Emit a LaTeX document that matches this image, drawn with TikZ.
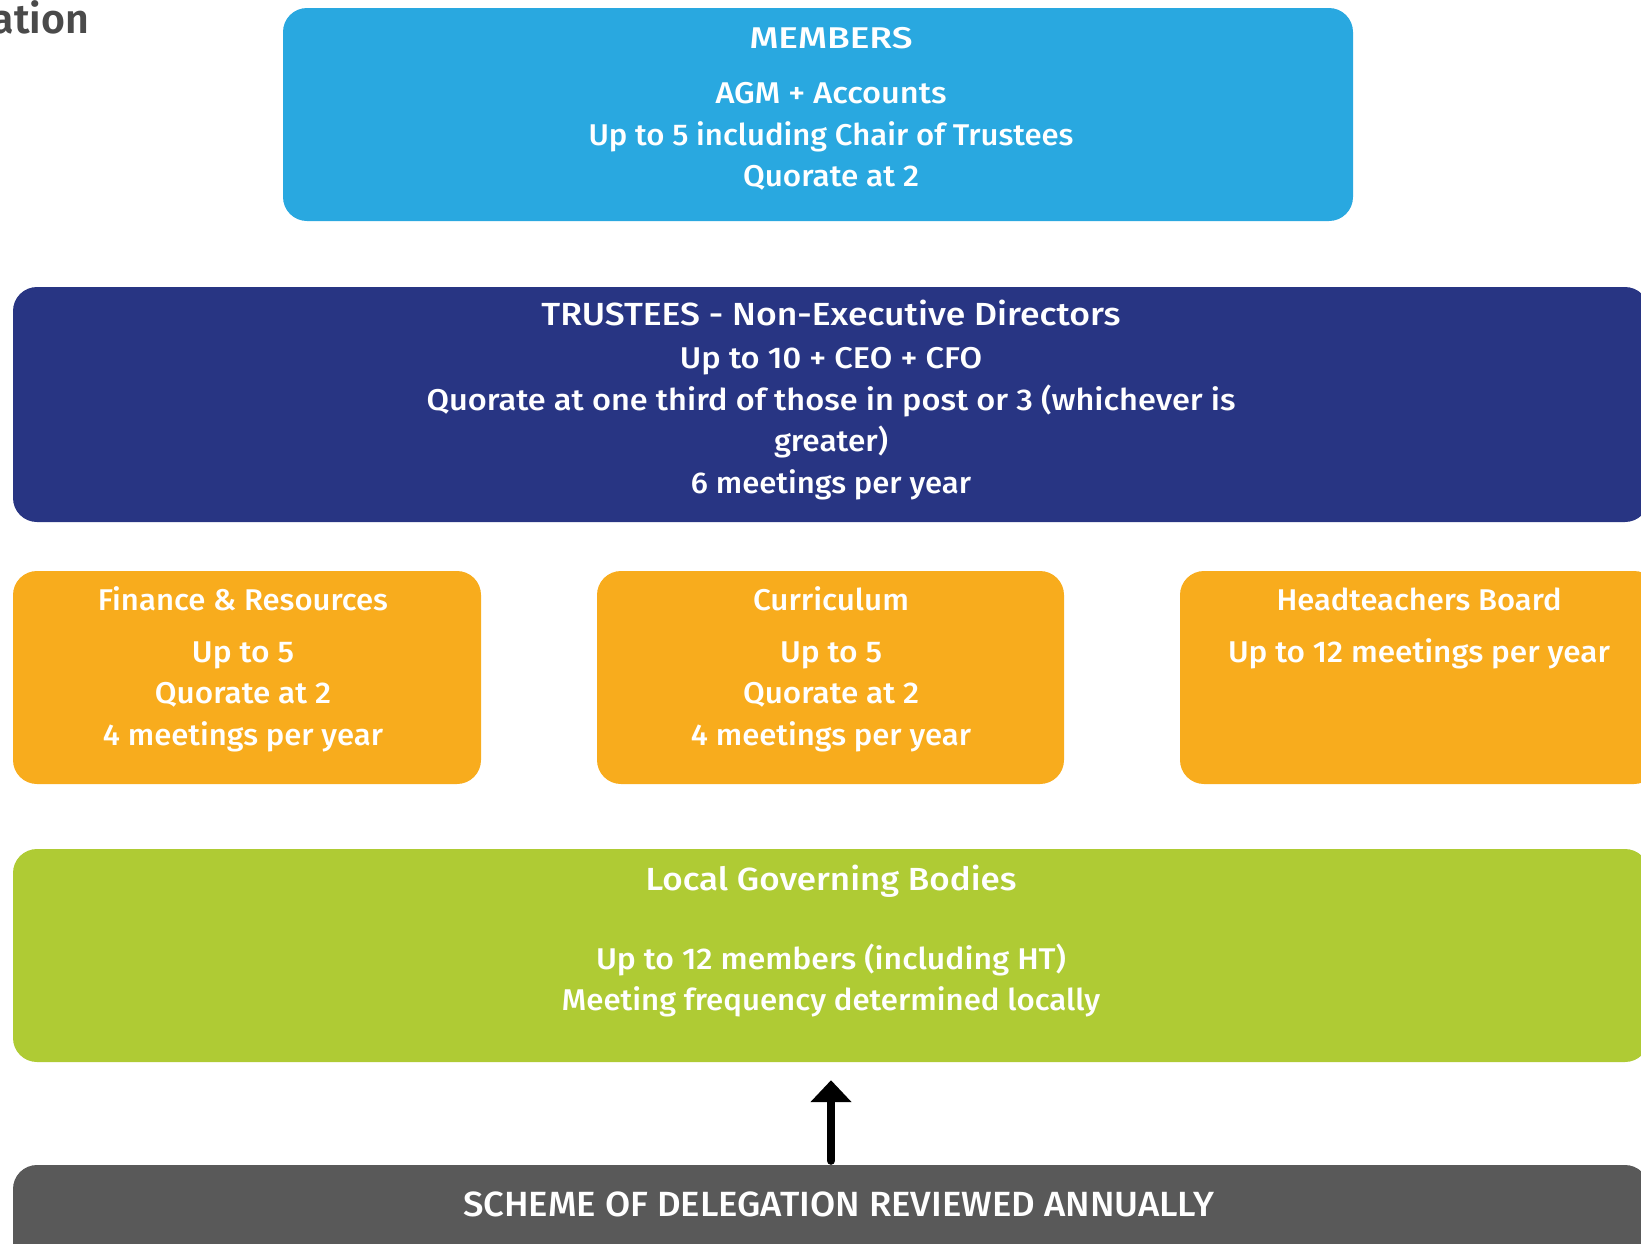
\documentclass[tikz,border=0pt]{standalone}
\usepackage{fontspec}
\setmainfont{Fira Sans}[UprightFont=* Medium, BoldFont=* SemiBold]
\usepackage{graphicx}
\usetikzlibrary{arrows.meta}

\definecolor{memblue}{HTML}{29A8E0}
\definecolor{trustnavy}{HTML}{283583}
\definecolor{comorange}{HTML}{F8AC1D}
\definecolor{lgbgreen}{HTML}{AFCB34}
\definecolor{schemegray}{HTML}{595959}
\definecolor{headgray}{HTML}{4A4A4A}

% set a line of text to an exact width, keeping its height
\newcommand{\fitline}[2]{\resizebox{#1pt}{\height}{#2}}

\begin{document}
\begin{tikzpicture}[x=1pt,y=-1pt,
  panel/.style={rounded corners=24pt, inner sep=0pt, draw=none},
  txt/.style={anchor=base, text=white, inner sep=0pt,
    font=\fontsize{30}{36}\selectfont},
  bigtxt/.style={txt, font=\fontsize{32}{38}\selectfont},
  arrowline/.style={line width=8pt, line cap=round,
    -{Triangle[width=40pt,length=22pt]}}]
\useasboundingbox (0,0) rectangle (1641,1243);
\clip (0,0) rectangle (1641,1243);

% page heading, partly outside the sheet
\node[anchor=base east, inner sep=0pt, text=headgray,
  font=\bfseries\fontsize{41}{44}\selectfont] (heading) at (89,33) {ration};

% panels
\node[panel, fill=memblue, minimum width=1070pt, minimum height=213pt]
  (members) at (818,114.5) {};
\node[panel, fill=trustnavy, minimum width=1636pt, minimum height=235pt]
  (trustees) at (831,404.5) {};
\node[panel, fill=comorange, minimum width=468pt, minimum height=213pt]
  (finance) at (247,677.5) {};
\node[panel, fill=comorange, minimum width=467pt, minimum height=213pt]
  (curriculum) at (830.5,677.5) {};
\node[panel, fill=comorange, minimum width=478pt, minimum height=213pt]
  (heads) at (1419,677.5) {};
\node[panel, fill=lgbgreen, minimum width=1636pt, minimum height=213pt]
  (lgb) at (831,955.5) {};
\node[panel, fill=schemegray, minimum width=1636pt, minimum height=130pt]
  (scheme) at (831,1230) {};

% members
\node[txt] (memA) at (831,48)  {\fitline{163}{MEMBERS}};
\node[txt] (memB) at (831,103) {\fitline{231}{AGM + Accounts}};
\node[txt] (memC) at (831,145) {\fitline{485}{Up to 5 including Chair of Trustees}};
\node[txt] (memD) at (831,186) {\fitline{176}{Quorate at 2}};

% trustees
\node[bigtxt] (truA) at (831,325) {\fitline{579}{TRUSTEES - Non-Executive Directors}};
\node[txt] (truB) at (831,368) {\fitline{302}{Up to 10 + CEO + CFO}};
\node[txt] (truC) at (831,410) {\fitline{809}{Quorate at one third of those in post or 3 (whichever is}};
\node[txt] (truD) at (831,451) {\fitline{114}{greater)}};
\node[txt] (truE) at (831,493) {\fitline{280}{6 meetings per year}};

% committees
\node[txt] (finA) at (243,610) {\fitline{290}{Finance \& Resources}};
\node[txt] (finB) at (243,662) {\fitline{102}{Up to 5}};
\node[txt] (finC) at (243,703) {\fitline{176}{Quorate at 2}};
\node[txt] (finD) at (243,745) {\fitline{280}{4 meetings per year}};

\node[txt] (curA) at (831,610) {\fitline{156}{Curriculum}};
\node[txt] (curB) at (831,662) {\fitline{102}{Up to 5}};
\node[txt] (curC) at (831,703) {\fitline{176}{Quorate at 2}};
\node[txt] (curD) at (831,745) {\fitline{280}{4 meetings per year}};

\node[txt] (hedA) at (1419,610) {\fitline{285}{Headteachers Board}};
\node[txt] (hedB) at (1419,662) {\fitline{382}{Up to 12 meetings per year}};

% local governing bodies
\node[bigtxt] (lgbA) at (831,890) {\fitline{371}{Local Governing Bodies}};
\node[txt] (lgbB) at (831,969) {\fitline{470}{Up to 12 members (including HT)}};
\node[txt] (lgbC) at (831,1010) {\fitline{538}{Meeting frequency determined locally}};

% scheme of delegation
\node[txt, font=\fontsize{35}{40}\selectfont] (schA) at (838.5,1216)
  {\fitline{751}{SCHEME OF DELEGATION REVIEWED ANNUALLY}};

% arrow from the scheme up to the local governing bodies
\draw[arrowline] ([yshift=4pt]scheme.north) -- ([yshift=-18pt]lgb.south);
\end{tikzpicture}
\end{document}
